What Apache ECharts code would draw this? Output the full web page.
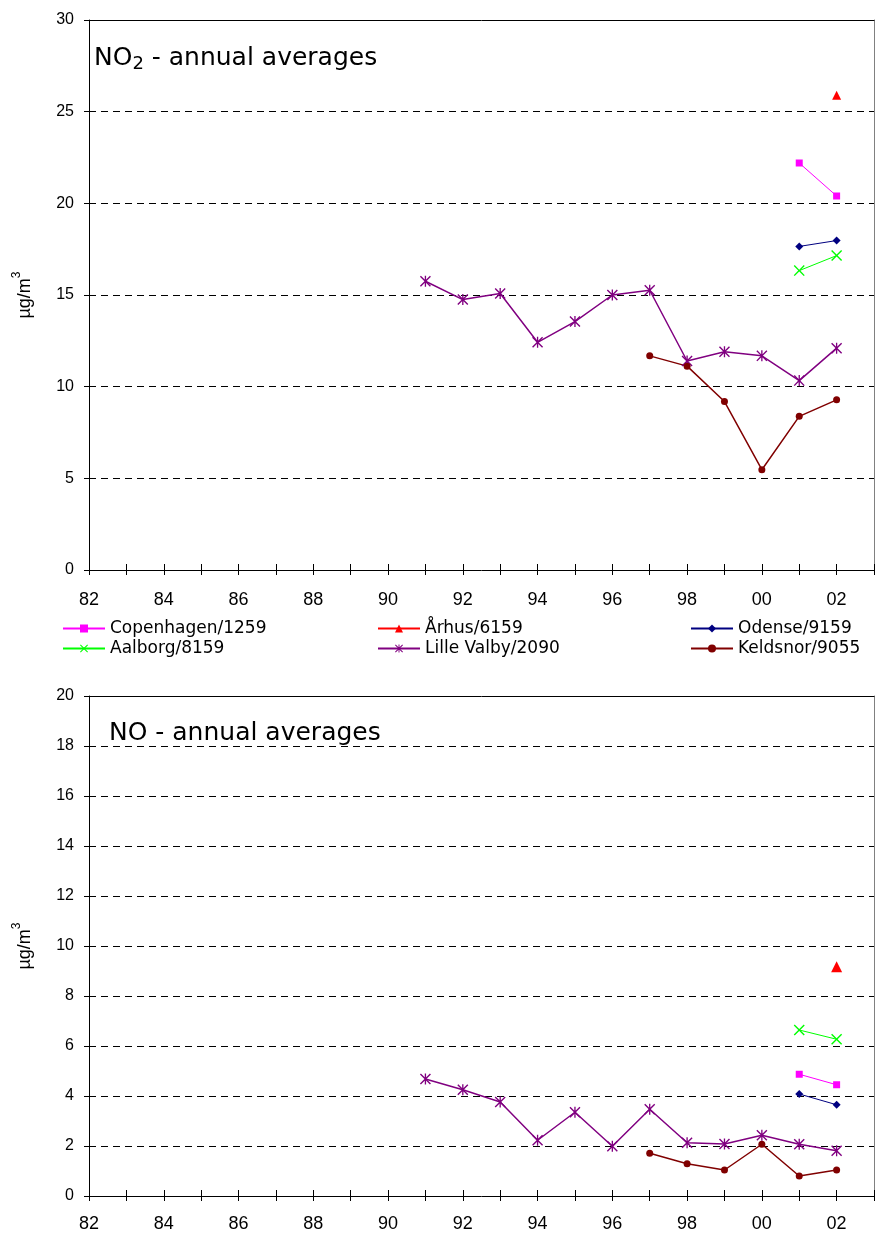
<!DOCTYPE html>
<html>
<head>
<meta charset="utf-8">
<script src="https://cdn.jsdelivr.net/npm/echarts@6/dist/echarts.min.js"></script>
<style>
html,body{margin:0;padding:0;background:#fff;}
#chart{width:877px;height:1236px;}
</style>
</head>
<body>
<div id="chart"></div>
<script>
// ---------- data ----------
const seriesNames = ['Copenhagen/1259', 'Århus/6159', 'Odense/9159', 'Aalborg/8159', 'Lille Valby/2090', 'Keldsnor/9055'];

const yearsLilleValby = [1991, 1992, 1993, 1994, 1995, 1996, 1997, 1998, 1999, 2000, 2001, 2002];
const yearsKeldsnor = [1997, 1998, 1999, 2000, 2001, 2002];
const yearsUrban = [2001, 2002];
const yearsArhus = [2002];

// NO2 annual averages (µg/m3)
const no2Copenhagen = [22.2, 20.4];
const no2Arhus = [25.9];
const no2Odense = [17.65, 17.97];
const no2Aalborg = [16.33, 17.15];
const no2LilleValby = [15.75, 14.75, 15.08, 12.42, 13.55, 15.0, 15.26, 11.4, 11.9, 11.68, 10.33, 12.1];
const no2Keldsnor = [11.68, 11.12, 9.19, 5.47, 8.38, 9.28];

// NO annual averages (µg/m3)
const noCopenhagen = [4.87, 4.45];
const noArhus = [9.17];
const noOdense = [4.08, 3.65];
const noAalborg = [6.64, 6.27];
const noLilleValby = [4.68, 4.25, 3.76, 2.23, 3.35, 1.99, 3.47, 2.13, 2.08, 2.43, 2.07, 1.81];
const noKeldsnor = [1.71, 1.29, 1.04, 2.07, 0.80, 1.04];

const xMin = 1982, xMax = 2003;
const no2YMax = 30, no2YInterval = 5;
const noYMax = 20, noYInterval = 2;

// ---------- styling ----------
const FONT = "'Liberation Sans', Arial, Helvetica, sans-serif";
const FONT_WIDE = "'DejaVu Sans', 'Liberation Sans', sans-serif";
const zip = (xs, ys) => xs.map((x, i) => [x, ys[i]]);
const SYM_X = 'path://M0,0.9 L0.9,0 L5,4.1 L9.1,0 L10,0.9 L5.9,5 L10,9.1 L9.1,10 L5,5.9 L0.9,10 L0,9.1 L4.1,5 Z';
const SYM_STAR = 'path://M0,0.9 L0.9,0 L5,4.1 L9.1,0 L10,0.9 L5.9,5 L10,9.1 L9.1,10 L5,5.9 L0.9,10 L0,9.1 L4.1,5 Z M4.4,0 L5.6,0 L5.6,10 L4.4,10 Z';

const styles = [
  {color: '#FF00FF', symbol: 'rect', size: 7, width: 1},
  {color: '#FF0000', symbol: 'triangle', size: 9, width: 1},
  {color: '#000080', symbol: 'diamond', size: 8, width: 1},
  {color: '#00FF00', symbol: SYM_X, size: 11, width: 1},
  {color: '#800080', symbol: SYM_STAR, size: 11, width: 1.5},
  {color: '#800000', symbol: 'circle', size: 7, width: 1.5}
];

const xFormatter = v => (v % 2 !== 0 || v > 2002) ? '' : String(v % 100).padStart(2, '0');

function xAxes(g, labelMargin) {
  return [
    {gridIndex: g, type: 'value', min: xMin, max: xMax, interval: 1, position: 'bottom',
     axisLine: {show: true, onZero: false, lineStyle: {color: '#000', width: 1}},
     axisTick: {show: true, length: 5, lineStyle: {color: '#000'}},
     axisLabel: {show: true, formatter: xFormatter, margin: labelMargin, fontSize: 18, color: '#000', fontFamily: FONT},
     splitLine: {show: false}},
    {gridIndex: g, type: 'value', min: xMin, max: xMax, interval: 1, position: 'bottom', offset: -6,
     axisLine: {show: false, onZero: false},
     axisTick: {show: true, length: 11, lineStyle: {color: '#000'}},
     axisLabel: {show: false}, splitLine: {show: false}},
    {gridIndex: g, type: 'value', min: xMin, max: xMax, interval: 1, position: 'top',
     axisLine: {show: true, onZero: false, lineStyle: {color: '#000', width: 1}},
     axisTick: {show: false}, axisLabel: {show: false}, splitLine: {show: false}}
  ];
}

function yAxes(g, ymax, yint) {
  return [
    {gridIndex: g, type: 'value', min: 0, max: ymax, interval: yint, position: 'left',
     axisLine: {show: true, onZero: false, lineStyle: {color: '#000', width: 1}},
     axisTick: {show: true, length: 5, lineStyle: {color: '#000'}},
     axisLabel: {margin: 15, fontSize: 16, color: '#000', fontFamily: FONT},
     splitLine: {show: true, lineStyle: {color: '#000', width: 1, type: [7, 5]}},
     name: '{a|µg/m}{b|3}', nameLocation: 'middle', nameGap: 50, nameRotate: 90,
     nameTextStyle: {color: '#000', fontFamily: FONT,
       rich: {a: {fontSize: 18, lineHeight: 28, fontFamily: FONT, color: '#000'},
              b: {fontSize: 12, lineHeight: 12, verticalAlign: 'top', fontFamily: FONT, color: '#000'}}}},
    {gridIndex: g, type: 'value', min: 0, max: ymax, interval: yint, position: 'left', offset: -6,
     axisLine: {show: false, onZero: false},
     axisTick: {show: true, length: 11, lineStyle: {color: '#000'}},
     axisLabel: {show: false}, splitLine: {show: false}},
    {gridIndex: g, type: 'value', min: 0, max: ymax, interval: yint, position: 'right',
     axisLine: {show: true, onZero: false, lineStyle: {color: '#808080', width: 1}},
     axisTick: {show: false}, axisLabel: {show: false}, splitLine: {show: false}}
  ];
}

function makeSeries(g, sets) {
  return sets.map((d, i) => ({
    name: seriesNames[i], type: 'line', xAxisIndex: g * 3, yAxisIndex: g * 3,
    data: d, symbol: styles[i].symbol,
    symbolSize: (g === 1 && i === 1) ? 11 : styles[i].size,
    lineStyle: {color: styles[i].color, width: styles[i].width},
    itemStyle: {color: styles[i].color, borderWidth: 0},
    emphasis: {disabled: true}, silent: true
  }));
}

const no2Sets = [
  zip(yearsUrban, no2Copenhagen), zip(yearsArhus, no2Arhus), zip(yearsUrban, no2Odense),
  zip(yearsUrban, no2Aalborg), zip(yearsLilleValby, no2LilleValby), zip(yearsKeldsnor, no2Keldsnor)
];
const noSets = [
  zip(yearsUrban, noCopenhagen), zip(yearsArhus, noArhus), zip(yearsUrban, noOdense),
  zip(yearsUrban, noAalborg), zip(yearsLilleValby, noLilleValby), zip(yearsKeldsnor, noKeldsnor)
];

const legendCols = [62, 377, 690];
const legendRows = [620, 640];

const chart = echarts.init(document.getElementById('chart'), null, {renderer: 'canvas'});
chart.setOption({
  animation: false,
  backgroundColor: '#fff',
  textStyle: {fontFamily: FONT},
  title: [
    {text: '{a|NO}{b|2}{a| - annual averages}', left: 94, top: 43, padding: 0,
     textStyle: {fontWeight: 'normal', fontFamily: FONT_WIDE,
       rich: {a: {fontSize: 25, lineHeight: 30, color: '#000', fontFamily: FONT_WIDE, fontWeight: 'normal'},
              b: {fontSize: 18, lineHeight: 16, verticalAlign: 'bottom', color: '#000', fontFamily: FONT_WIDE, fontWeight: 'normal'}}}},
    {text: 'NO - annual averages', left: 109, top: 718, padding: 0,
     textStyle: {fontSize: 25, lineHeight: 30, color: '#000', fontFamily: FONT_WIDE, fontWeight: 'normal'}}
  ],
  legend: seriesNames.map((n, i) => ({
    data: [n], left: legendCols[i % 3], top: legendRows[Math.floor(i / 3)],
    itemWidth: 42, itemHeight: 10, padding: 0, selectedMode: false,
    textStyle: {fontSize: 17, color: '#000', fontFamily: FONT_WIDE}
  })),
  grid: [
    {left: 89, right: 1, top: 20, bottom: 666, containLabel: false},
    {left: 89, right: 1, top: 696, bottom: 40, containLabel: false}
  ],
  xAxis: [...xAxes(0, 21), ...xAxes(1, 19)],
  yAxis: [...yAxes(0, no2YMax, no2YInterval), ...yAxes(1, noYMax, noYInterval)],
  series: [...makeSeries(0, no2Sets), ...makeSeries(1, noSets)]
});
</script>
</body>
</html>
